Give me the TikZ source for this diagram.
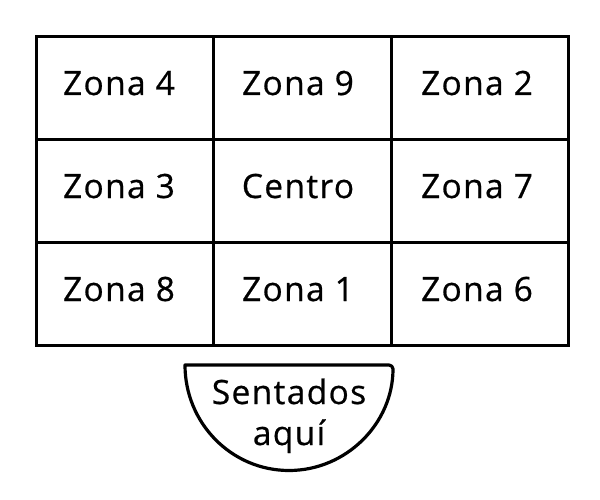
\documentclass[tikz,border=0pt]{standalone}
\usepackage{fontspec}
\setmainfont{Open Sans}[LetterSpace=4,FakeBold=0.6]
\begin{document}
\begin{tikzpicture}[x=1pt,y=-1pt,
  cell/.style={draw=black,line width=3pt,minimum width=177.3pt,minimum height=103pt,inner sep=0pt,anchor=north west},
  lbl/.style={font=\fontsize{33.5}{40}\selectfont,anchor=base,inner sep=0pt},
  seat/.style={draw=black,line width=3.2pt,line join=round}]
\useasboundingbox (0,0) rectangle (600,500);
\node[cell] (z4) at (35,35) {};
\node[cell] (z9) at (212.3,35) {};
\node[cell] (z2) at (389.7,35) {};
\node[cell] (z3) at (35,138) {};
\node[cell] (c) at (212.3,138) {};
\node[cell] (z7) at (389.7,138) {};
\node[cell] (z8) at (35,241) {};
\node[cell] (z1) at (212.3,241) {};
\node[cell] (z6) at (389.7,241) {};
\node[lbl] (t4) at (119,95) {Zona 4};
\node[lbl] (t9) at (298,95) {Zona 9};
\node[lbl] (t2) at (477,95) {Zona 2};
\node[lbl] (t3) at (119,198) {Zona 3};
\node[lbl] (tc) at (298,198) {Centro};
\node[lbl] (t7) at (477,198) {Zona 7};
\node[lbl] (t8) at (119,301) {Zona 8};
\node[lbl] (t1) at (298,301) {Zona 1};
\node[lbl] (t6) at (477,301) {Zona 6};
\draw[seat] (189,365) [rounded corners=4pt] -- (393,365) [sharp corners] arc[start angle=0,end angle=180,x radius=104,y radius=105.5] -- cycle;
\node[lbl] (s1) at (289,404) {Sentados};
\node[lbl] (s2) at (289,445) {aquí};
\end{tikzpicture}
\end{document}
